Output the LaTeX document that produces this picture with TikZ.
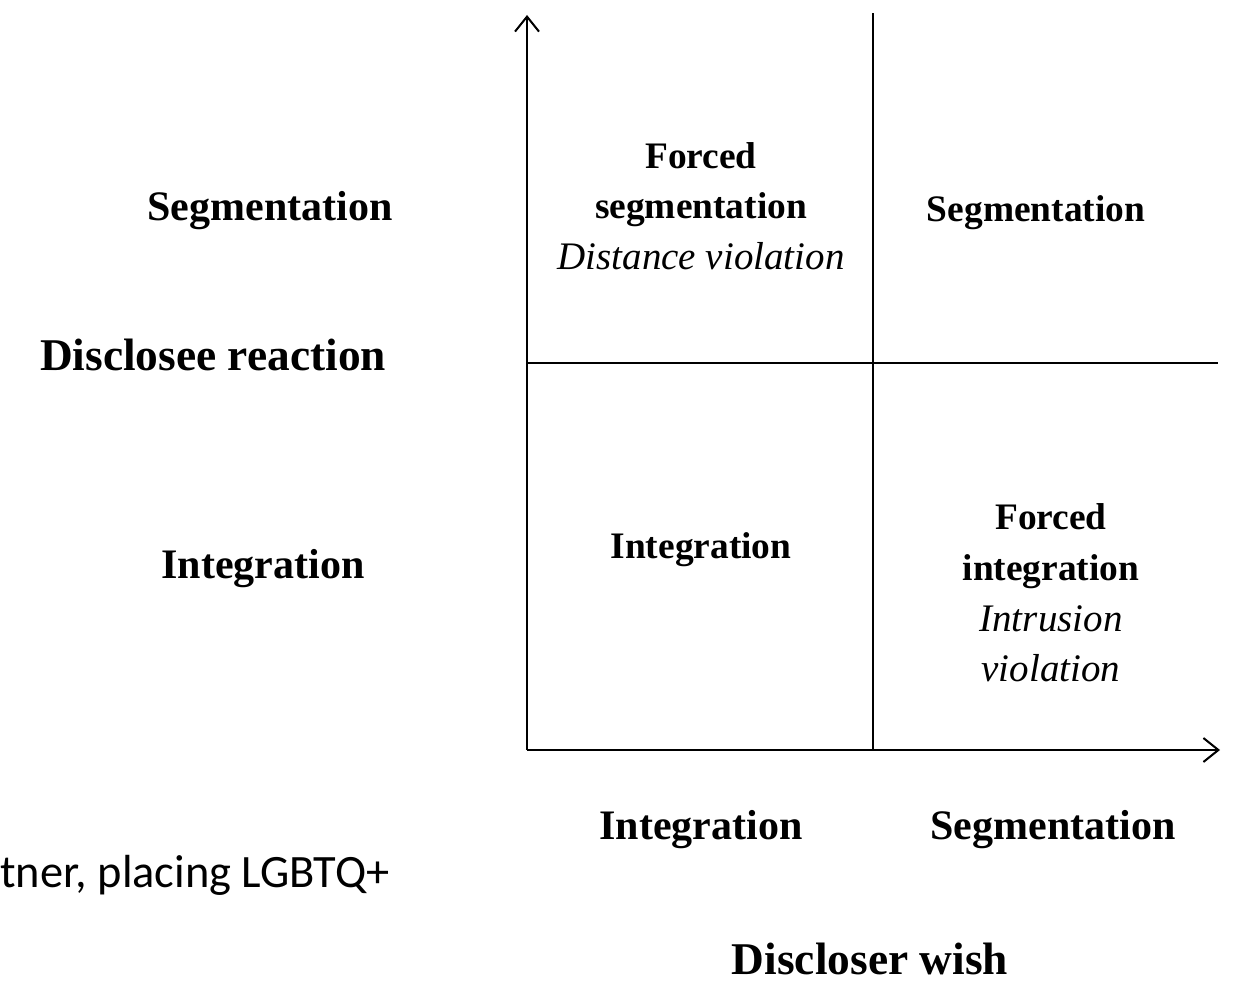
\documentclass[tikz,border=0pt]{standalone}
\usepackage{fontspec}
\setmainfont{Liberation Serif}
\newfontfamily\calib{Carlito}
\usetikzlibrary{arrows.meta}
\tikzset{
  axisline/.style={line width=1pt, black},
  gridline/.style={line width=0.9pt, black},
  axtip/.style={-{Straight Barb[length=7.5pt,width=12pt,line width=1pt]}},
  lbl/.style={font=\fontsize{21}{25.5}\selectfont\bfseries, inner sep=0pt, align=center},
  qlbl/.style={font=\fontsize{18.7}{25.5}\selectfont\bfseries, inner sep=0pt, align=center},
  biglbl/.style={font=\fontsize{22.7}{27}\selectfont\bfseries, inner sep=0pt},
  quad/.style={font=\fontsize{19}{25.3}\selectfont, inner sep=0pt, align=center}
}
\newcommand{\qb}[1]{{\fontsize{18.7}{25.3}\selectfont\bfseries #1}}
\newcommand{\qi}[1]{{\fontsize{19.5}{25.3}\selectfont\itshape #1}}
\begin{document}
\begin{tikzpicture}[x=0.5pt,y=-0.5pt]
\useasboundingbox (0,0) rectangle (1238,984);
% coordinates
\coordinate (O) at (527,750);
\coordinate (Ytop) at (527,15);
\coordinate (Xend) at (1220,750);
\coordinate (Mtop) at (873,13);
\coordinate (Mbot) at (873,750);
\coordinate (Hl) at (527,363);
\coordinate (Hr) at (1218,363);
% axes
\draw[axisline,axtip] (O) -- (Ytop);
\draw[axisline,axtip] (O) -- (Xend);
\draw[gridline] (Mbot) -- (Mtop);
\draw[gridline] (Hl) -- (Hr);
% left labels
\node[lbl] (lseg) at (270,211) {Segmentation};
\node[biglbl] (drx) at (213,355) {Disclosee reaction};
\node[lbl] (lint) at (263,569) {Integration};
% quadrants
\node[quad] (q1) at (701,206) {\qb{Forced}\\\qb{segmentation}\\\qi{Distance violation}};
\node[qlbl] (q2) at (1036,213) {Segmentation};
\node[qlbl] (q3) at (701,550) {Integration};
\node[quad] (q4) at (1051,593) {\qb{Forced}\\\qb{integration}\\\qi{Intrusion}\\\qi{violation}};
% bottom labels
\node[lbl] (bint) at (701,830) {Integration};
\node[lbl] (bseg) at (1053,830) {Segmentation};
\node[biglbl] (dw) at (870,959) {Discloser wish};
% stray fragment
\node[font=\calib\fontsize{23.2}{27}\selectfont, inner sep=0pt, anchor=base west] (frag) at (0,887) {tner, placing LGBTQ+};
\end{tikzpicture}
\end{document}
